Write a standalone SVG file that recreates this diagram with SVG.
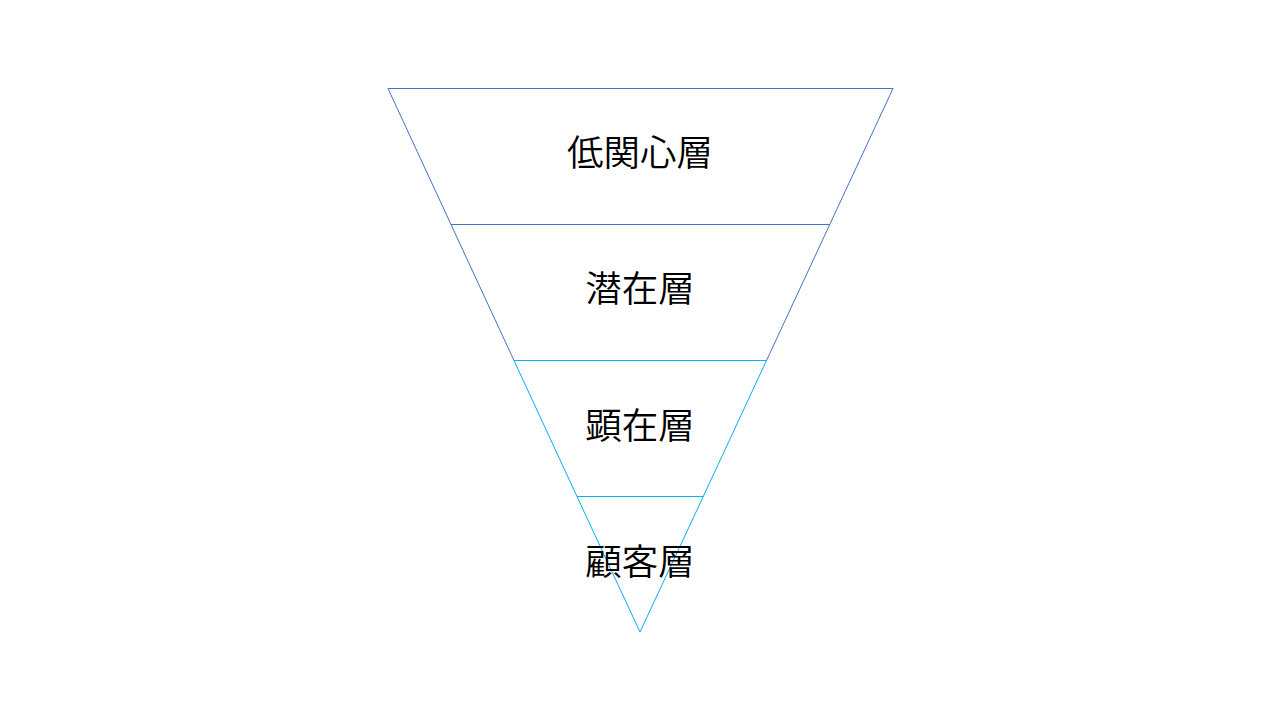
<svg xmlns="http://www.w3.org/2000/svg" width="1280" height="720" viewBox="0 0 1280 720">
<style>
.dk{fill:none;stroke:#4472C4;stroke-width:1}
.lt{fill:none;stroke:#00B0F0;stroke-width:1}
.lbl{font-family:"Noto Sans CJK JP","Noto Sans CJK SC",sans-serif;font-size:36.5px;font-weight:350;fill:#000;text-anchor:middle}
</style>
<rect width="1280" height="720" fill="#fff"/>
<g id="layer1">
<polygon class="dk" points="388,88.5 893,88.5 829.75,224.5 451,224.5"/>
<text class="lbl" x="640" y="166">低関心層</text>
</g>
<g id="layer2">
<polygon class="dk" points="451,224.5 829.75,224.5 766.5,360.5 514,360.5"/>
<text class="lbl" x="640" y="302">潜在層</text>
</g>
<g id="layer3">
<polygon class="lt" points="514,360.5 766.5,360.5 703.25,496.5 577,496.5"/>
<text class="lbl" x="640" y="439">顕在層</text>
</g>
<g id="layer4">
<polygon class="lt" points="577,496.5 703.25,496.5 640,632"/>
<text class="lbl" x="640" y="575">顧客層</text>
</g>
</svg>
